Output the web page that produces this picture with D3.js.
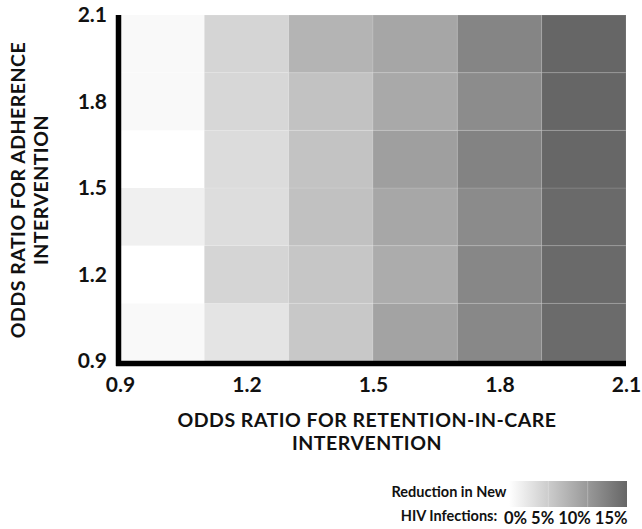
<!DOCTYPE html>
<html><head><meta charset="utf-8">
<script src="https://cdn.jsdelivr.net/npm/d3@7"></script>
<style>
body{margin:0;background:#fff}
svg text{font-family:Lato,"Open Sans",sans-serif;font-weight:700;fill:#111}
</style>
</head><body><svg id="chart" width="642" height="529"></svg>
<script>
// Cell centres (odds ratios), each cell spans +/-0.1
const retentionOR = [1.0, 1.2, 1.4, 1.6, 1.8, 2.0];
const adherenceOR = [1.0, 1.2, 1.4, 1.6, 1.8, 2.0];
// Reduction in new HIV infections (%), one row per adherence OR (bottom to top),
// one value per retention OR (left to right)
const reductionAdh10 = [0.6, 2.6, 5.4, 9.0, 11.7, 14.5];
const reductionAdh12 = [0.0, 4.1, 5.6, 8.1, 11.8, 14.6];
const reductionAdh14 = [1.5, 3.3, 6.1, 8.6, 11.4, 14.6];
const reductionAdh16 = [0.0, 3.4, 5.9, 9.4, 12.2, 14.9];
const reductionAdh18 = [0.6, 3.9, 6.0, 8.4, 11.3, 15.0];
const reductionAdh20 = [0.6, 4.1, 7.4, 8.7, 12.0, 15.0];
const axisTicks = [0.9, 1.2, 1.5, 1.8, 2.1];
const legendTicks = [0, 5, 10, 15];

const rows = [reductionAdh10, reductionAdh12, reductionAdh14, reductionAdh16, reductionAdh18, reductionAdh20];
const cells = [];
rows.forEach((r, i) => r.forEach((v, j) => cells.push({adh: adherenceOR[i], ret: retentionOR[j], v})));

const svg = d3.select("#chart");
const x = d3.scaleLinear().domain([0.9, 2.1]).range([120, 626]);
const y = d3.scaleLinear().domain([0.9, 2.1]).range([361, 15]);
const color = d3.scaleLinear().domain([0, 15]).range(["#ffffff", "#666666"]).clamp(true);
const half = 0.1;

svg.append("g").selectAll("rect").data(cells).join("rect")
  .attr("x", d => x(d.ret - half))
  .attr("y", d => y(d.adh + half))
  .attr("width", d => x(d.ret + half) - x(d.ret - half))
  .attr("height", d => y(d.adh - half) - y(d.adh + half))
  .attr("fill", d => color(d.v))
  .attr("stroke", "rgba(255,255,255,0.12)")
  .attr("stroke-width", 1);

// axes lines
svg.append("line").attr("x1", x(0.9) - 1.5).attr("x2", x(0.9) - 1.5)
  .attr("y1", y(2.1)).attr("y2", y(0.9) + 5)
  .attr("stroke", "#000").attr("stroke-width", 5.5);
svg.append("line").attr("x1", x(0.9) - 4).attr("x2", x(2.1))
  .attr("y1", y(0.9) + 2.5).attr("y2", y(0.9) + 2.5)
  .attr("stroke", "#000").attr("stroke-width", 5.5);

// tick labels via axes
const yAxis = d3.axisLeft(y).tickValues(axisTicks).tickFormat(d3.format(".1f")).tickSize(0).tickPadding(0);
const gy = svg.append("g").attr("transform", "translate(107,0)").call(yAxis);
const xAxis = d3.axisBottom(x).tickValues(axisTicks).tickFormat(d3.format(".1f")).tickSize(0).tickPadding(0);
const gx = svg.append("g").attr("transform", "translate(0,377)").call(xAxis);
[gy, gx].forEach(g => {
  g.select(".domain").remove();
  g.selectAll("text").attr("font-size", 21).attr("font-family", null).style("font-weight", 700).attr("fill", "#111");
});

// axis titles
const xt = svg.append("text").attr("text-anchor", "middle").attr("font-size", 19.5).attr("letter-spacing", 0.5);
xt.append("tspan").attr("x", 367).attr("y", 427).text("ODDS RATIO FOR RETENTION-IN-CARE");
xt.append("tspan").attr("x", 367).attr("y", 450).text("INTERVENTION");

const yt = svg.append("text").attr("text-anchor", "middle").attr("font-size", 19.5).attr("letter-spacing", 0.5)
  .attr("transform", "translate(0,190) rotate(-90)");
yt.append("tspan").attr("x", 0).attr("y", 25).text("ODDS RATIO FOR ADHERENCE");
yt.append("tspan").attr("x", 0).attr("y", 48).text("INTERVENTION");

// legend
const defs = svg.append("defs");
const grad = defs.append("linearGradient").attr("id", "lg");
grad.selectAll("stop").data(legendTicks).join("stop")
  .attr("offset", d => (d / 15 * 100) + "%")
  .attr("stop-color", d => color(d));
const lx = d3.scaleLinear().domain([0, 15]).range([509, 627]);
svg.append("rect").attr("x", lx(0)).attr("y", 481).attr("width", lx(15) - lx(0)).attr("height", 26)
  .attr("fill", "url(#lg)");
svg.append("g").selectAll("line").data(legendTicks.slice(1, -1)).join("line")
  .attr("x1", d => lx(d)).attr("x2", d => lx(d)).attr("y1", 481).attr("y2", 507)
  .attr("stroke", "rgba(255,255,255,0.25)");
svg.append("text").attr("x", 449).attr("y", 497).attr("text-anchor", "middle").attr("font-size", 14.5)
  .text("Reduction in New");
svg.append("text").attr("x", 449).attr("y", 521).attr("text-anchor", "middle").attr("font-size", 14.5)
  .text("HIV Infections:");
svg.append("text").attr("x", 504).attr("y", 524).attr("font-size", 16.5)
  .text(legendTicks.map(d => d + "%").join(" "));
</script>
</body></html>
